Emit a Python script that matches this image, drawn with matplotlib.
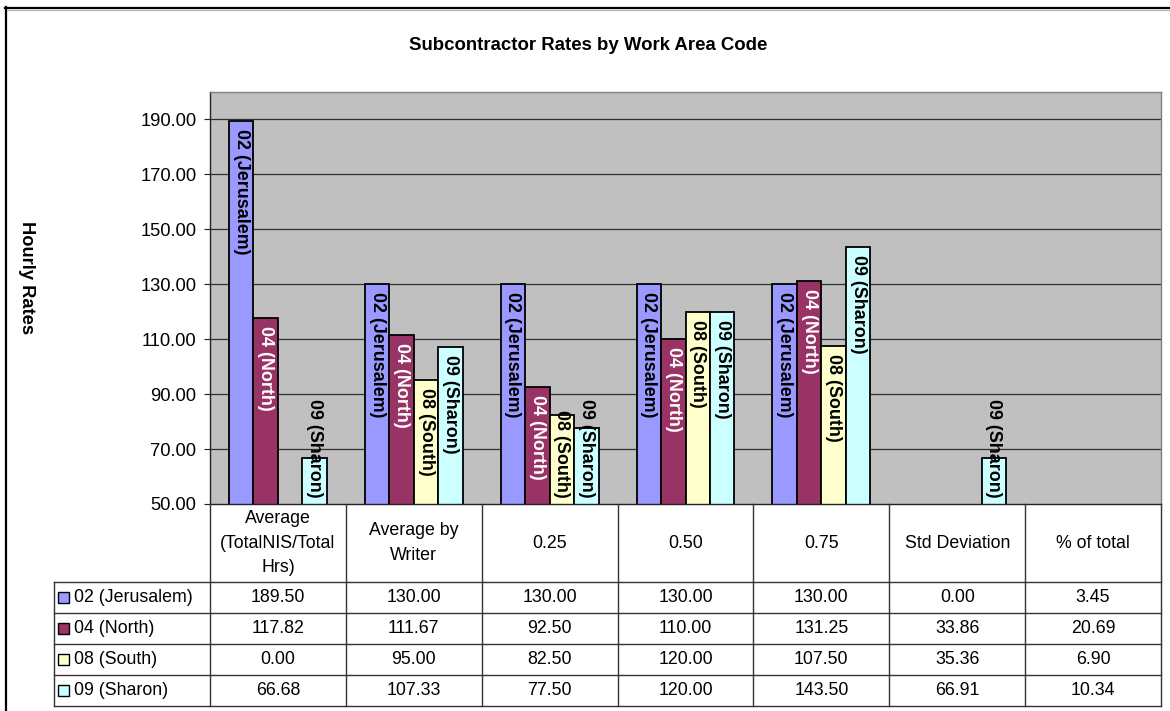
import matplotlib
matplotlib.use("Agg")
import matplotlib.pyplot as plt
from matplotlib.lines import Line2D
from matplotlib.patches import Rectangle

plt.rcParams['font.family'] = ['Liberation Sans', 'DejaVu Sans']

# data
categories = ["Average\n(TotalNIS/Total\nHrs)", "Average by\nWriter", "0.25", "0.50",
              "0.75", "Std Deviation", "% of total"]
series = ["02 (Jerusalem)", "04 (North)", "08 (South)", "09 (Sharon)"]
jerusalem = [189.50, 130.00, 130.00, 130.00, 130.00, 0.00, 3.45]
north = [117.82, 111.67, 92.50, 110.00, 131.25, 33.86, 20.69]
south = [0.00, 95.00, 82.50, 120.00, 107.50, 35.36, 6.90]
sharon = [66.68, 107.33, 77.50, 120.00, 143.50, 66.91, 10.34]
values = [jerusalem, north, south, sharon]
colors = ["#9999FF", "#993366", "#FFFFCC", "#CCFFFF"]
label_colors = ["black", "white", "black", "black"]
yticks = [50, 70, 90, 110, 130, 150, 170, 190]

W, H = 1170, 711
fig = plt.figure(figsize=(W / 100, H / 100), dpi=100)

def fx(x):
    return x / W

def fy(y):
    return 1 - y / H

# plot area in pixels
L, R, T, B = 210, 1161, 92, 504
ax = fig.add_axes([fx(L), fy(B), fx(R) - fx(L), fy(T) - fy(B)])
ax.set_facecolor("#C0C0C0")
ax.set_xlim(0, len(categories))
ax.set_ylim(50, 200)
ax.set_yticks(yticks)
ax.set_yticklabels([f"{v:.2f}" for v in yticks], fontsize=13.2)
ax.tick_params(axis='y', direction='out', length=4.3, width=0.8, pad=5.5, color='#222222')
ax.set_xticks([])
for y in yticks[1:]:
    ax.axhline(y, color='#303030', lw=0.9, zorder=0.5)
for s in ['top', 'right']:
    ax.spines[s].set_color('#808080')
    ax.spines[s].set_linewidth(1.0)
ax.spines['left'].set_color('#222222')
ax.spines['bottom'].set_color('#222222')
ax.spines['left'].set_linewidth(1.0)
ax.spines['bottom'].set_linewidth(1.0)

bw = 0.18
fig.canvas.draw()
renderer = fig.canvas.get_renderer()
axis_bottom = ax.transData.transform((0, 50))[1]
for si, (name, vals) in enumerate(zip(series, values)):
    xs = [i + 0.5 + (si - 1.5) * bw for i in range(len(categories))]
    ax.bar(xs, vals, width=bw, bottom=0, color=colors[si], edgecolor='black',
           linewidth=1.3, zorder=2)
    for x, v in zip(xs, vals):
        if v <= 50:
            continue
        kw = dict(rotation=270, ha='center', fontsize=12.9, fontweight='bold',
                  color=label_colors[si], zorder=3, textcoords='offset pixels')
        t = ax.annotate(name, (x, v), xytext=(0, -8), va='top', **kw)
        bb = t.get_window_extent(renderer)
        # label does not fit under the bar top: sit it on the axis instead
        if bb.y0 < axis_bottom + 3:
            t.remove()
            ax.annotate(name, (x, 50), xytext=(0, 6), va='bottom', **kw)

# title and y label
fig.text(fx(588), fy(46), "Subcontractor Rates by Work Area Code", ha='center', va='center',
         fontsize=13.4, fontweight='bold')
fig.text(fx(26), fy(278), "Hourly Rates", ha='center', va='center', rotation=270,
         fontsize=13.2, fontweight='bold')

# data table
ncol = len(categories)
colw = (R - L) / ncol
rows_y = [582, 613, 644, 675, 706]
lc = '#333333'
def line(x0, y0, x1, y1, c=lc, lw=1.0):
    fig.add_artist(Line2D([fx(x0), fx(x1)], [fy(y0), fy(y1)], color=c, lw=lw))

for y in rows_y:
    line(54, y, R, y)
line(54, rows_y[0], 54, rows_y[-1])
for i in range(ncol + 1):
    x = L + i * colw
    line(x, B, x, rows_y[-1])

for i, cat in enumerate(categories):
    fig.text(fx(L + (i + 0.5) * colw), fy((B + rows_y[0]) / 2), cat, ha='center',
             va='center', fontsize=12.8, linespacing=1.6)

for si, (name, vals) in enumerate(zip(series, values)):
    yc = (rows_y[si] + rows_y[si + 1]) / 2
    fig.add_artist(Rectangle((fx(58), fy(yc + 5.5)), fx(11), 11 / H, facecolor=colors[si],
                             edgecolor='black', lw=1.0))
    fig.text(fx(74), fy(yc), name, ha='left', va='center', fontsize=12.8)
    for i, v in enumerate(vals):
        fig.text(fx(L + (i + 0.5) * colw), fy(yc), f"{v:.2f}", ha='center', va='center',
                 fontsize=12.8)

# outer chart border
line(5, 7.5, W, 7.5, c='black', lw=1.6)
line(5.5, 7, 5.5, H, c='black', lw=1.6)
line(7, 9.5, W, 9.5, c='#B0B0B0', lw=0.8)

fig.savefig("out.png", dpi=100)
